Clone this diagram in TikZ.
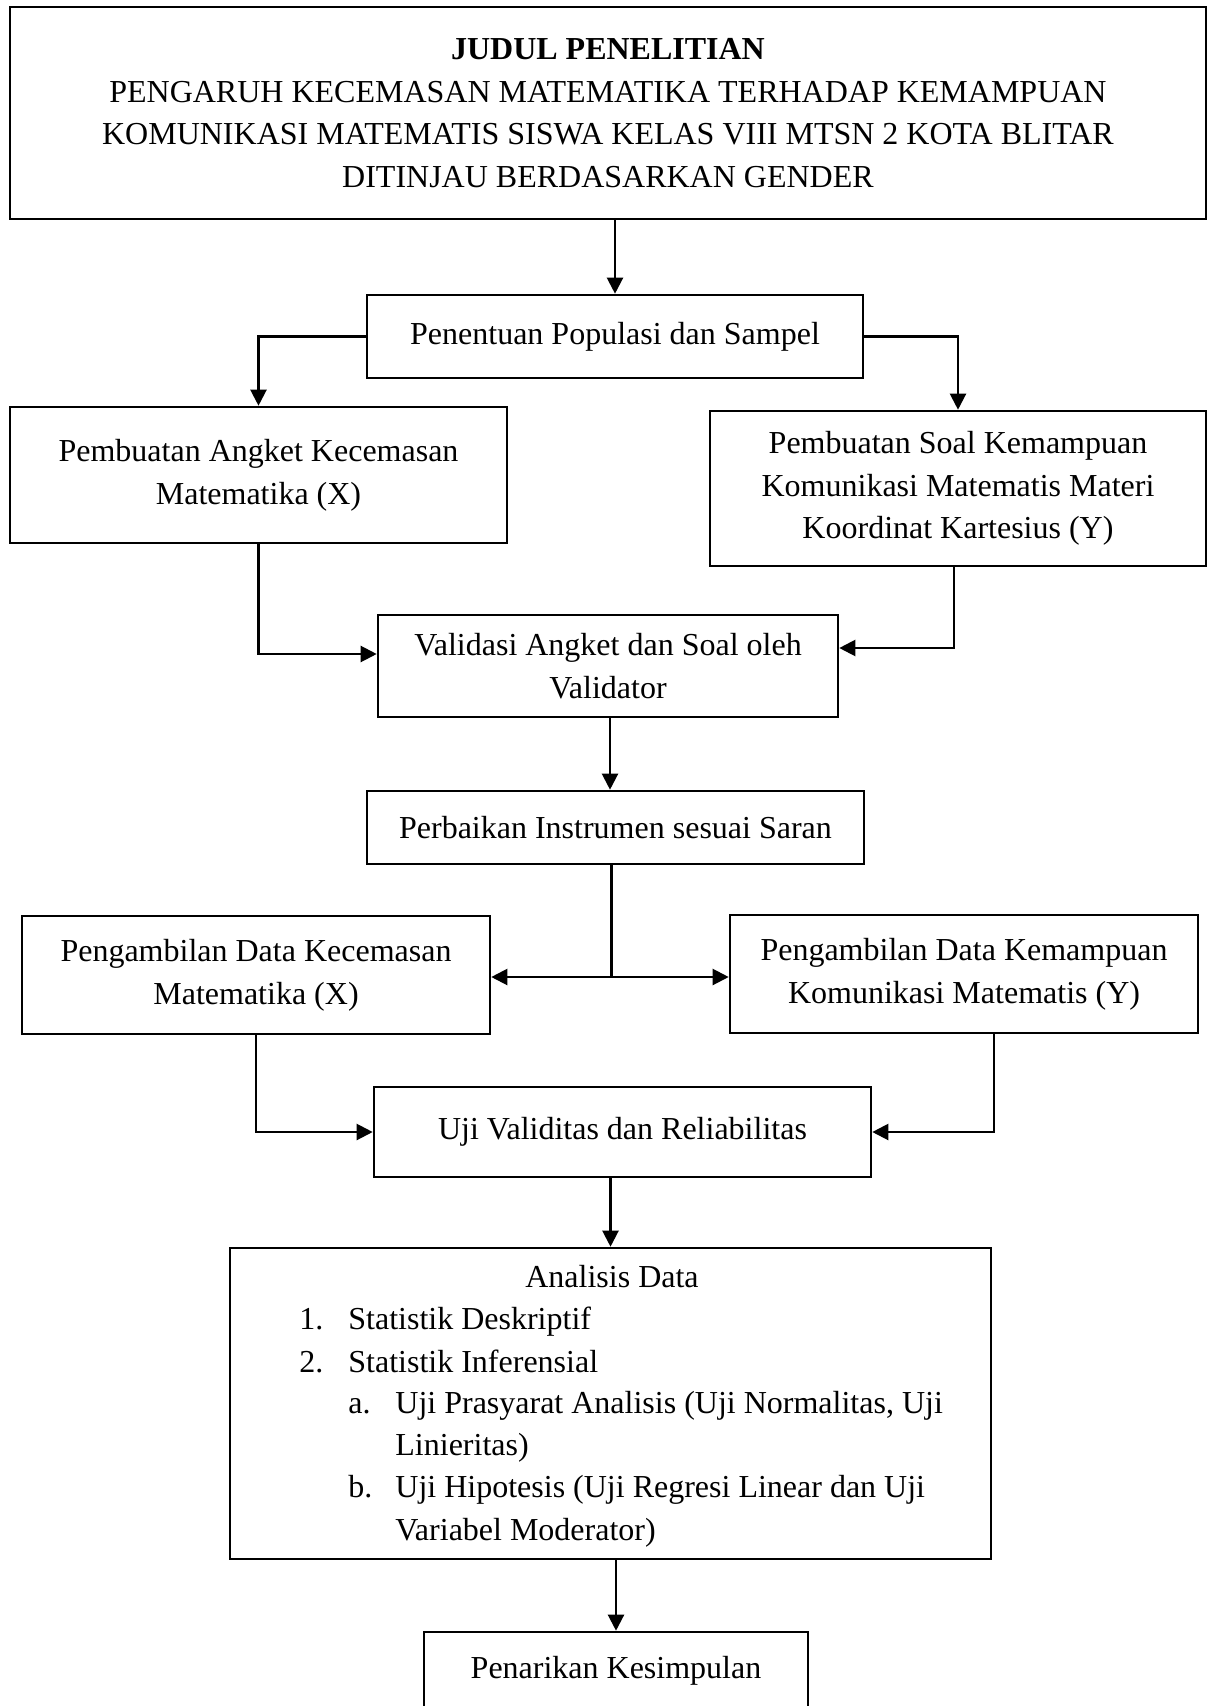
\documentclass[tikz,border=0pt]{standalone}
\usepackage{fontspec}
\setmainfont{Liberation Serif}
\usetikzlibrary{arrows.meta,calc}
\begin{document}
\begin{tikzpicture}[x=0.5pt,y=-0.5pt,
  every node/.style={font=\fontsize{16}{21.4}\selectfont},
  box/.style={draw,line width=1.3pt,inner sep=0pt,align=center},
  txt/.style={inner sep=0pt,anchor=base west},
  conn/.style={line width=1.1pt},
  arr/.style={conn,-{Triangle[length=8pt,width=8pt]}},
]
\useasboundingbox (0,0) rectangle (1208,1706);

\node[box,minimum width=598pt,minimum height=106pt] (title) at (608,113)
  {\textbf{JUDUL PENELITIAN}\\PENGARUH KECEMASAN MATEMATIKA TERHADAP KEMAMPUAN\\KOMUNIKASI MATEMATIS SISWA KELAS VIII MTSN 2 KOTA BLITAR\\DITINJAU BERDASARKAN GENDER};
\node[box,minimum width=248pt,minimum height=41.5pt] (pop) at (615,336.5) {Penentuan Populasi dan Sampel};
\node[box,minimum width=248.5pt,minimum height=68pt] (angket) at (258.5,475) {Pembuatan Angket Kecemasan\\Matematika (X)};
\node[box,minimum width=248pt,minimum height=77.5pt] (soal) at (958,488.5) {Pembuatan Soal Kemampuan\\Komunikasi Matematis Materi\\Koordinat Kartesius (Y)};
\node[box,minimum width=230pt,minimum height=51pt] (valid) at (608,666) {Validasi Angket dan Soal oleh\\Validator};
\node[box,minimum width=248.5pt,minimum height=36.5pt] (perb) at (615.5,827.5) {Perbaikan Instrumen sesuai Saran};
\node[box,minimum width=234pt,minimum height=59pt] (pengX) at (256,975) {Pengambilan Data Kecemasan\\Matematika (X)};
\node[box,minimum width=234pt,minimum height=59pt] (pengY) at (964,974) {Pengambilan Data Kemampuan\\Komunikasi Matematis (Y)};
\node[box,minimum width=248.5pt,minimum height=45pt] (uji) at (622.5,1132) {Uji Validitas dan Reliabilitas};
\node[box,minimum width=380.5pt,minimum height=155.5pt] (analisis) at (610.5,1403.5) {};
\node[box,minimum width=192pt,minimum height=39pt] (tarik) at (616,1671) {Penarikan Kesimpulan};

% analisis content
\node[inner sep=0pt,anchor=base] (ad) at (612,1287) {Analisis Data};
\node[txt] (n1) at (299,1329) {1.};
\node[txt] (t1) at (348,1329) {Statistik Deskriptif};
\node[txt] (n2) at (299,1372) {2.};
\node[txt] (t2) at (348,1372) {Statistik Inferensial};
\node[txt] (na) at (348,1413) {a.};
\node[txt] (ta) at (395,1413) {Uji Prasyarat Analisis (Uji Normalitas, Uji};
\node[txt] (ta2) at (395,1455) {Linieritas)};
\node[txt] (nb) at (348,1497) {b.};
\node[txt] (tb) at (395,1497) {Uji Hipotesis (Uji Regresi Linear dan Uji};
\node[txt] (tb2) at (395,1540) {Variabel Moderator)};

% connectors
\draw[arr] (pop.north |- title.south) -- (pop.north);
\draw[arr] (pop.west) -| (angket.north);
\draw[arr] (pop.east) -| (soal.north);
\coordinate (vinL) at ($(valid.west)+(0,-12)$);
\coordinate (vinR) at ($(valid.east)+(0,-18)$);
\coordinate (soalout) at ($(soal.south)+(-4,0)$);
\draw[arr] (angket.south) |- (vinL);
\draw[arr] (soalout) |- (vinR);
\coordinate (vout) at ($(valid.south)+(2,0)$);
\draw[arr] (vout) -- (vout |- perb.north);
\coordinate (perbout) at ($(perb.south)+(-4,0)$);
\coordinate (split) at ($(perbout |- pengX.east)+(0,2)$);
\draw[conn] (perbout) -- (split);
\draw[arr] (split) -- (split -| pengX.east);
\draw[arr] (split) -- (split -| pengY.west);
\coordinate (pyout) at ($(pengY.south)+(30,0)$);
\draw[arr] (pengX.south) |- (uji.west);
\draw[arr] (pyout) |- (uji.east);
\draw[arr] (analisis.north |- uji.south) -- (analisis.north);
\draw[arr] (tarik.north |- analisis.south) -- (tarik.north);
\end{tikzpicture}
\end{document}
